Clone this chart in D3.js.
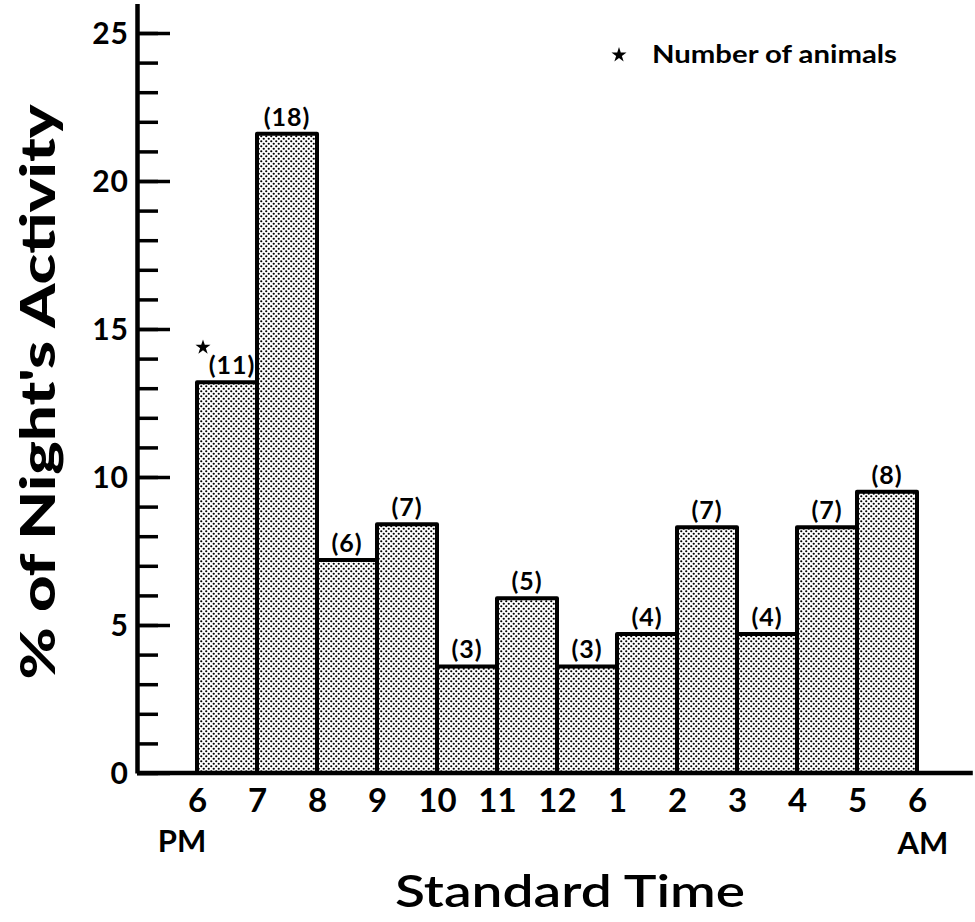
<!DOCTYPE html>
<html>
<head>
<meta charset="utf-8">
<script src="https://cdn.jsdelivr.net/npm/d3@7"></script>
<style>
  body { margin: 0; background: #fff; }
  text { font-family: Lato, "Liberation Sans", sans-serif; fill: #000; }
</style>
</head>
<body>
<script>
const width = 975;
const height = 922;

// hour boundaries (6 PM .. 6 AM)
const hourLabels = ["6", "7", "8", "9", "10", "11", "12", "1", "2", "3", "4", "5", "6"];
// % of night's activity in each hour
const activity = [13.2, 21.6, 7.2, 8.4, 3.6, 5.9, 3.6, 4.7, 8.3, 4.7, 8.3, 9.5];
// number of animals above each bar
const animals = [11, 18, 6, 7, 3, 5, 3, 4, 7, 4, 7, 8];
const yMajor = [0, 5, 10, 15, 20, 25];
const yMinor = d3.range(0, 26);

const svg = d3.select("body")
    .append("svg")
    .attr("width", width)
    .attr("height", height);

// stipple fill
const pat = svg.append("defs").append("pattern")
    .attr("id", "dots")
    .attr("patternUnits", "userSpaceOnUse")
    .attr("width", 5)
    .attr("height", 5);
pat.append("rect").attr("width", 5).attr("height", 5).attr("fill", "#fff");
pat.append("circle").attr("cx", 1.25).attr("cy", 1.25).attr("r", 1.1).attr("fill", "#000");
pat.append("circle").attr("cx", 3.75).attr("cy", 3.75).attr("r", 1.1).attr("fill", "#000");

let xScale = d3.scaleLinear()
    .domain([0, 12])
    .range([197, 917]);

let yScale = d3.scaleLinear()
    .domain([0, 26])
    .range([773, 3.4]);

// bars
svg.selectAll("rect.bar")
    .data(activity)
    .enter()
    .append("rect")
    .attr("class", "bar")
    .attr("x", (d, i) => xScale(i))
    .attr("y", d => yScale(d))
    .attr("width", xScale(1) - xScale(0))
    .attr("height", d => yScale(0) - yScale(d))
    .attr("fill", "url(#dots)")
    .attr("stroke", "#000")
    .attr("stroke-width", 4)
    .attr("stroke-linejoin", "round");

// animal counts
svg.selectAll("text.count")
    .data(animals)
    .enter()
    .append("text")
    .attr("class", "count")
    .attr("x", (d, i) => xScale(i + 0.5) + (i === 0 ? 5 : 0))
    .attr("y", (d, i) => yScale(activity[i]) - 8)
    .attr("text-anchor", "middle")
    .style("font-size", "25px")
    .style("font-weight", 700)
    .style("letter-spacing", "1px")
    .text(d => `(${d})`);

// star on first bar
svg.append("path")
    .attr("d", d3.symbol(d3.symbolStar, 70)())
    .attr("transform", `translate(${xScale(0.1)}, ${yScale(activity[0]) - 35})`)
    .attr("fill", "#000");

// y axis: major and minor ticks
let yAxisMajor = d3.axisLeft(yScale)
    .tickValues(yMajor)
    .tickSizeInner(-33)
    .tickSizeOuter(0)
    .tickPadding(8);

let yAxisMinor = d3.axisLeft(yScale)
    .tickValues(yMinor)
    .tickSizeInner(-21)
    .tickSizeOuter(0)
    .tickFormat("");

svg.append("g")
    .attr("transform", "translate(137, 0)")
    .call(yAxisMinor)
    .call(g => g.selectAll("line").attr("stroke-width", 3.5))
    .call(g => g.select(".domain").attr("stroke-width", 4.5));

svg.append("g")
    .attr("transform", "translate(137, 0)")
    .call(yAxisMajor)
    .call(g => g.select(".domain").remove())
    .call(g => g.selectAll("line").attr("stroke-width", 3.5))
    .call(g => g.selectAll("text")
        .style("font-size", "30px")
        .style("font-weight", 700)
        .style("letter-spacing", "1px")
        .attr("dy", "0.36em"));

// baseline
svg.append("line")
    .attr("x1", xScale(-1))
    .attr("x2", xScale(12.93))
    .attr("y1", yScale(0))
    .attr("y2", yScale(0))
    .attr("stroke", "#000")
    .attr("stroke-width", 4.5);

// x axis labels
let xAxis = d3.axisBottom(xScale)
    .tickValues(d3.range(13))
    .tickSize(0)
    .tickPadding(16)
    .tickFormat((d, i) => hourLabels[i]);

svg.append("g")
    .attr("transform", `translate(0, ${yScale(0)})`)
    .call(xAxis)
    .call(g => g.select(".domain").remove())
    .call(g => g.selectAll("text")
        .style("font-size", "33px")
        .style("font-weight", 700));

svg.append("text")
    .attr("x", xScale(-0.25))
    .attr("y", 852)
    .attr("text-anchor", "middle")
    .style("font-size", "31px")
    .style("font-weight", 700)
    .text("PM");

svg.append("text")
    .attr("x", xScale(12.1))
    .attr("y", 854)
    .attr("text-anchor", "middle")
    .style("font-size", "31px")
    .style("font-weight", 700)
    .text("AM");

// axis titles
svg.append("text")
    .attr("x", 570)
    .attr("y", 907)
    .attr("text-anchor", "middle")
    .attr("textLength", 350)
    .attr("lengthAdjust", "spacingAndGlyphs")
    .style("font-size", "44px")
    .style("font-weight", 600)
    .text("Standard Time");

svg.append("text")
    .attr("transform", "translate(55, 392) rotate(-90)")
    .attr("text-anchor", "middle")
    .attr("textLength", 575)
    .attr("lengthAdjust", "spacingAndGlyphs")
    .style("font-size", "48px")
    .style("font-weight", 900)
    .text("% of Night's Activity");

// legend
svg.append("path")
    .attr("d", d3.symbol(d3.symbolStar, 70)())
    .attr("transform", "translate(619, 55)")
    .attr("fill", "#000");

svg.append("text")
    .attr("x", 652)
    .attr("y", 63)
    .attr("textLength", 245)
    .attr("lengthAdjust", "spacingAndGlyphs")
    .style("font-size", "24px")
    .style("font-weight", 700)
    .text("Number of animals");
</script>
</body>
</html>
